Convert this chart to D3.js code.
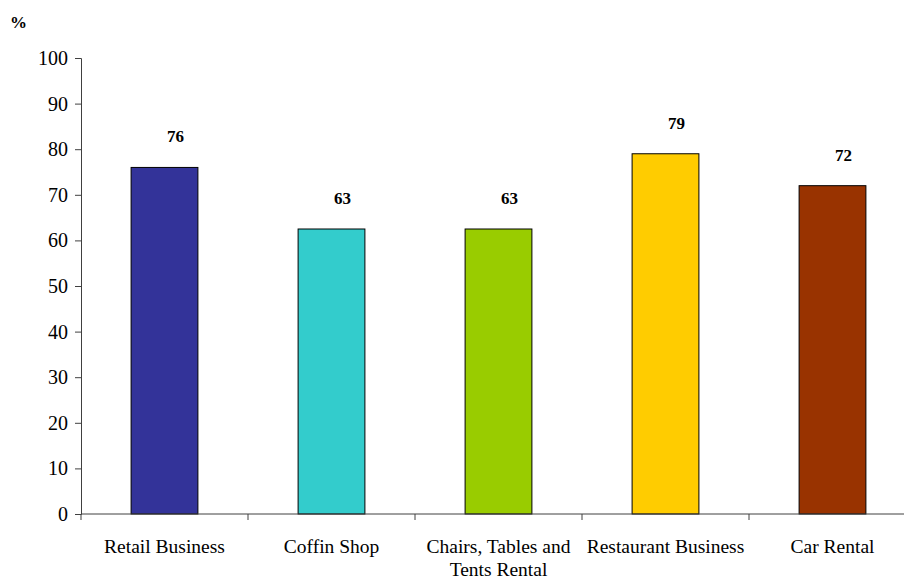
<!doctype html>
<html lang="en">
<head>
    <meta charset="UTF-8">
    <title>Business shares</title>
    <style>
        body { margin: 0; background: #fff; }
    </style>
</head>
<body>
<script src="https://cdn.jsdelivr.net/npm/d3@7"></script>
<script>

    // data
    const categories = ['Retail Business', 'Coffin Shop', 'Chairs, Tables and|Tents Rental', 'Restaurant Business', 'Car Rental']
    const values = [76, 62.5, 62.5, 79, 72]
    const colors = ['#333399', '#33CCCC', '#99CC00', '#FFCC00', '#993300']
    const yTicks = [0, 10, 20, 30, 40, 50, 60, 70, 80, 90, 100]

    const width = 904
    const height = 579
    const margin = {left: 81, right: 916, top: 58, bottom: 514}
    const serif = "'Liberation Serif', 'DejaVu Serif', serif"

    const svg = d3.select('body')
        .append('svg')
        .attr('width', width)
        .attr('height', height)
        .style('font-family', serif)

    const x = d3.scaleBand()
        .domain(categories)
        .range([margin.left, margin.right])
        .paddingInner(0.6)
        .paddingOuter(0.3)

    const y = d3.scaleLinear()
        .domain([0, 100])
        .range([margin.bottom, margin.top])

    // bars
    svg.selectAll('rect.bar')
        .data(values)
        .enter()
        .append('rect')
        .attr('class', 'bar')
        .attr('x', (d, i) => x(categories[i]))
        .attr('y', d => y(d))
        .attr('width', x.bandwidth())
        .attr('height', d => y(0) - y(d))
        .attr('fill', (d, i) => colors[i])
        .attr('stroke', '#000')
        .attr('stroke-width', 1)

    // value labels, sitting a bit right of the bar centre like the original
    svg.selectAll('text.val')
        .data(values)
        .enter()
        .append('text')
        .attr('class', 'val')
        .attr('x', (d, i) => x(categories[i]) + x.bandwidth() / 2 + 11)
        .attr('y', d => y(d) - 25)
        .attr('text-anchor', 'middle')
        .style('font-family', serif)
        .style('font-size', '17px')
        .style('font-weight', 'bold')
        .text(d => Math.round(d))

    // y axis
    const yAxis = svg.append('g')
        .attr('transform', `translate(${margin.left},0)`)
        .call(d3.axisLeft(y).tickValues(yTicks).tickSize(6).tickPadding(7))
    yAxis.attr('font-family', null).attr('font-size', null)
    yAxis.select('.domain').attr('stroke', '#404040')
    yAxis.selectAll('.tick line').attr('stroke', '#404040')
    yAxis.selectAll('.tick text')
        .attr('fill', '#000')
        .style('font-family', serif)
        .style('font-size', '20px')

    // x axis: ticks between the categories
    svg.append('line')
        .attr('x1', margin.left).attr('x2', margin.right)
        .attr('y1', margin.bottom).attr('y2', margin.bottom)
        .attr('stroke', '#404040')

    const step = x.step()
    svg.selectAll('line.xtick')
        .data(d3.range(categories.length + 1))
        .enter()
        .append('line')
        .attr('class', 'xtick')
        .attr('x1', i => margin.left + i * step)
        .attr('x2', i => margin.left + i * step)
        .attr('y1', margin.bottom)
        .attr('y2', margin.bottom + 6)
        .attr('stroke', '#404040')

    const cat = svg.selectAll('text.cat')
        .data(categories)
        .enter()
        .append('text')
        .attr('class', 'cat')
        .attr('x', d => x(d) + x.bandwidth() / 2)
        .attr('y', 553)
        .attr('text-anchor', 'middle')
        .style('font-family', serif)
        .style('font-size', '19.5px')

    cat.selectAll('tspan')
        .data(d => d.split('|'))
        .enter()
        .append('tspan')
        .attr('x', function() { return d3.select(this.parentNode).attr('x') })
        .attr('dy', (d, i) => i ? 23 : 0)
        .text(d => d)

    // unit label
    svg.append('text')
        .attr('x', 10)
        .attr('y', 28)
        .style('font-family', serif)
        .style('font-size', '17px')
        .style('font-weight', 'bold')
        .text('%')

</script>
</body>
</html>
